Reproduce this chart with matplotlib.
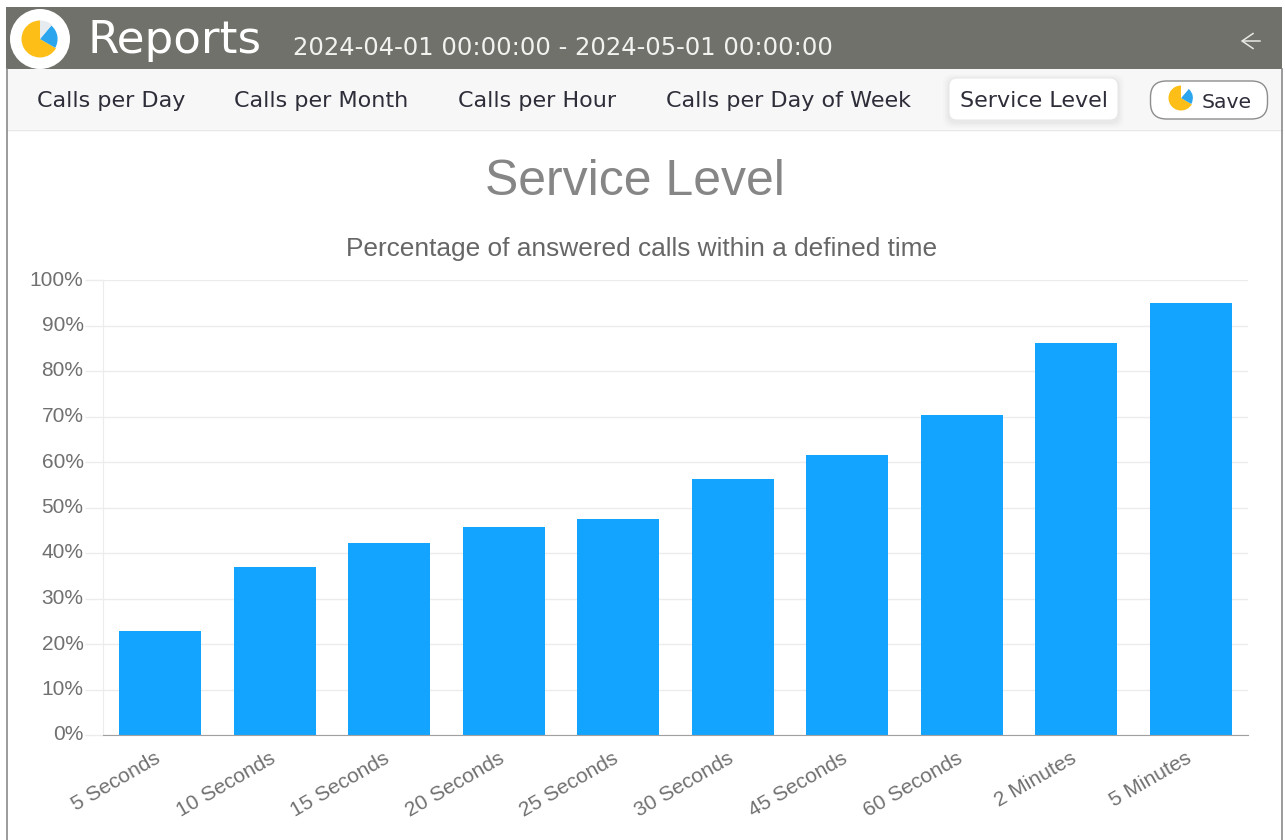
import matplotlib
matplotlib.use("Agg")
from matplotlib import pyplot as plt
from matplotlib.patches import Rectangle, Circle, Wedge, FancyBboxPatch
from matplotlib.transforms import ScaledTranslation

##### chart values
categories = ["5 Seconds", "10 Seconds", "15 Seconds", "20 Seconds", "25 Seconds",
              "30 Seconds", "45 Seconds", "60 Seconds", "2 Minutes", "5 Minutes"]
service_level = [22.9, 36.9, 42.2, 45.7, 47.5, 56.3, 61.5, 70.3, 86.2, 94.9]
y_ticks = [0, 10, 20, 30, 40, 50, 60, 70, 80, 90, 100]
tabs = ["Calls per Day", "Calls per Month", "Calls per Hour", "Calls per Day of Week", "Service Level"]
tab_x = [37, 234, 458, 666, 960]

W, H = 1285, 840
HEADER_FONT = "DejaVu Sans"
CHART_FONT = "Liberation Sans"

fig = plt.figure(figsize=(W / 100, H / 100), dpi=100, facecolor="white")

# page chrome, drawn in pixel coords
page = fig.add_axes([0, 0, 1, 1])
page.set_xlim(0, W)
page.set_ylim(H, 0)
page.axis("off")


def pie_icon(cx, cy, r, gap_color):
    # angles are negative because y is flipped here
    page.add_patch(Wedge((cx, cy), r, -330, -90, fc="#fdbf17", ec="none", zorder=5))
    page.add_patch(Wedge((cx, cy), r * 0.95, -50, 30, fc="#2ba5ee", ec="none", zorder=5))
    page.add_patch(Wedge((cx, cy), r, -90, -50, fc=gap_color, ec="none", zorder=5))


page.add_patch(Rectangle((6, 7), 1276, 62, fc="#71716b", ec="none"))
page.add_patch(Rectangle((7, 69), 1275, 60, fc="#f7f7f7", ec="none"))
page.plot([7, 1282], [129.5, 129.5], color="#e6e6e6", lw=1)
page.plot([6.5, 6.5], [69, H], color="#8a8a8a", lw=1.2)
page.plot([1282, 1282], [69, H], color="#8a8a8a", lw=1.2)

page.add_patch(Circle((40, 39), 30, fc="white", ec="none", zorder=4))
pie_icon(40, 39, 18.5, "#e6ebef")

page.text(88, 41, "Reports", color="white", fontsize=32.6, family=HEADER_FONT, va="center")
page.text(293, 48, "2024-04-01 00:00:00 - 2024-05-01 00:00:00", color="#f2f2f0", fontsize=17.5,
          family=HEADER_FONT, va="center")
page.annotate("", xy=(1238, 41), xytext=(1263, 41),
              arrowprops=dict(arrowstyle="->,head_length=0.8,head_width=0.55", color="#e8e8e6", lw=1.1))

# active tab + save button, soft shadow from stacked see-through boxes
for grow, alpha in [(6, 0.012), (4, 0.018), (2, 0.025)]:
    page.add_patch(FancyBboxPatch((949 - grow, 80 - grow), 169 + 2 * grow, 42 + 2 * grow,
                                  boxstyle="round,pad=0,rounding_size=9",
                                  fc="black", alpha=alpha, ec="none", zorder=1))
page.add_patch(FancyBboxPatch((949, 78), 169, 42, boxstyle="round,pad=0,rounding_size=8",
                              fc="white", ec="#e8e8e8", lw=0.8, zorder=2))
page.add_patch(FancyBboxPatch((1150.5, 81), 117, 38, boxstyle="round,pad=0,rounding_size=16",
                              fc="white", ec="#8c8c8c", lw=1, zorder=2))
pie_icon(1181, 98, 12.5, "white")

for name, x in zip(tabs, tab_x):
    page.text(x, 101, name, color="#2e2e3a", fontsize=16.05, family=HEADER_FONT, va="center", zorder=6)
page.text(1202, 103, "Save", color="#2e2e3a", fontsize=14.7, family=HEADER_FONT, va="center", zorder=6)

page.text(635, 182, "Service Level", color="#868686", fontsize=36, family=CHART_FONT,
          ha="center", va="center")
page.text(642, 249, "Percentage of answered calls within a defined time", color="#666666",
          fontsize=18.9, family=CHART_FONT, ha="center", va="center")

# bar chart
left, right, top, bottom = 103, 1248, 280, 735
ax = fig.add_axes([left / W, 1 - bottom / H, (right - left) / W, (bottom - top) / H])
ax.patch.set_alpha(0)
ax.bar(range(len(categories)), service_level, width=0.72, color="#13a4ff", zorder=3)
ax.set_xlim(-0.5, len(categories) - 0.5)
ax.set_ylim(0, 100)

ax.set_yticks(y_ticks)
ax.set_yticklabels(["%d%%" % t for t in y_ticks])
ax.set_xticks(range(len(categories)))
ax.set_xticklabels(categories, rotation=30, ha="right", rotation_mode="anchor")
ax.grid(axis="y", color="#ececec", lw=1, zorder=0)

ax.tick_params(axis="y", length=13, width=1, color="#ececec", pad=1, labelsize=15,
               labelcolor="#707070")
ax.tick_params(axis="x", length=0, pad=10, labelsize=15, labelcolor="#707070")

# labels sit a little left of the bar centres and the y ones a little high
x_shift = ScaledTranslation(-6 / 100, 0, fig.dpi_scale_trans)
y_shift = ScaledTranslation(0, 2 / 100, fig.dpi_scale_trans)
for lab in ax.get_xticklabels():
    lab.set_family(CHART_FONT)
    lab.set_transform(lab.get_transform() + x_shift)
for lab in ax.get_yticklabels():
    lab.set_family(CHART_FONT)
    lab.set_transform(lab.get_transform() + y_shift)

for side in ["top", "right"]:
    ax.spines[side].set_visible(False)
ax.spines["left"].set_color("#ececec")
ax.spines["bottom"].set_color("#a0a0a0")
ax.spines["bottom"].set_zorder(4)
ax.yaxis.get_ticklines()[0].set_color("#a0a0a0")

fig.savefig("out.png", dpi=100)
